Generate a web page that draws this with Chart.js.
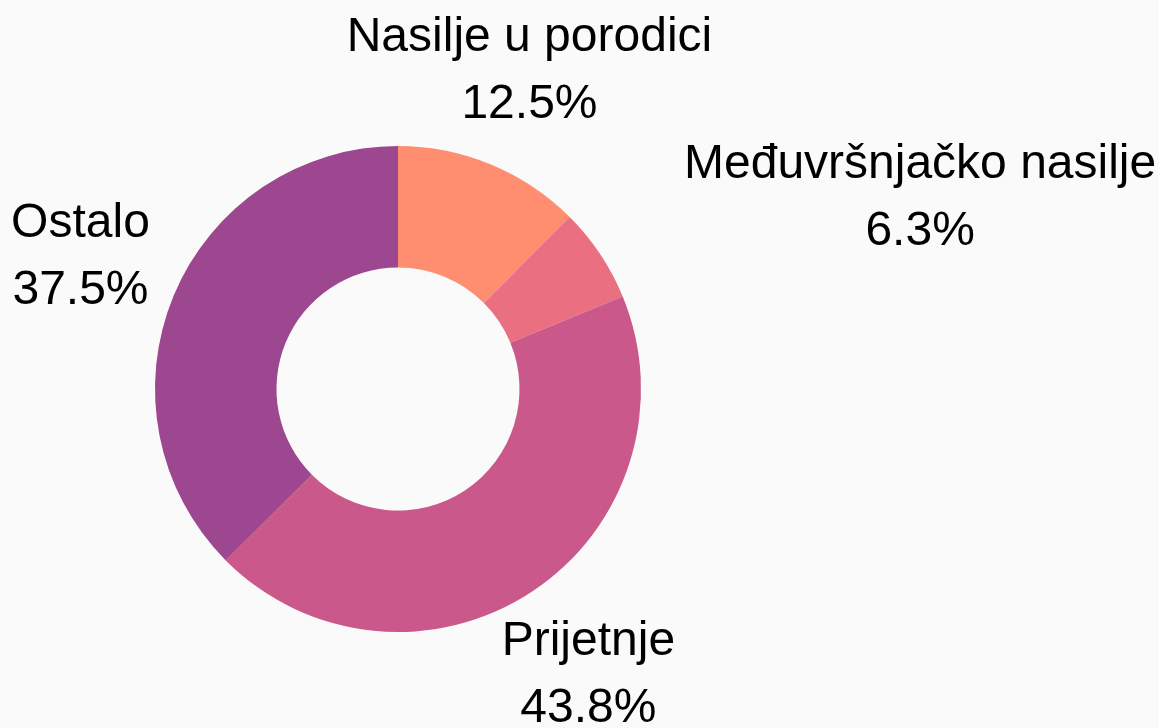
<!DOCTYPE html>
<html>
<head>
<meta charset="utf-8">
<script src="https://cdn.jsdelivr.net/npm/chart.js"></script>
<style>
  html, body { margin: 0; padding: 0; background: #fafafa; }
  #wrap { width: 1159px; height: 728px; }
</style>
</head>
<body>
<div id="wrap"><canvas id="chart_donut" width="1159" height="728"></canvas></div>
<script>
// data
const categories = ['Nasilje u porodici', 'Međuvršnjačko nasilje', 'Prijetnje', 'Ostalo'];
const shares = [12.5, 6.3, 43.8, 37.5];
const colors = ['#fe8e6f', '#ea6f80', '#ca588b', '#9c478f'];

// labels outside the ring, two lines each
const outsideLabels = {
  id: 'outsideLabels',
  afterDraw(chart, args, opts) {
    const ctx = chart.ctx;
    const meta = chart.getDatasetMeta(0);
    ctx.save();
    ctx.font = opts.size + 'px "Liberation Sans", Arial, sans-serif';
    ctx.fillStyle = '#000';
    ctx.textBaseline = 'middle';
    ctx.textAlign = 'center';
    meta.data.forEach((arc, i) => {
      const p = arc.getProps(['x', 'y', 'startAngle', 'endAngle', 'outerRadius'], true);
      const mid = (p.startAngle + p.endAngle) / 2;
      const r = p.outerRadius * opts.radiusFactor;
      let x = p.x + Math.cos(mid) * r;
      const y = p.y + Math.sin(mid) * r;
      const lines = [categories[i], shares[i].toFixed(1) + '%'];
      const w = Math.max(...lines.map(t => ctx.measureText(t).width));
      if (opts.align[i] === 'left') x += w / 2;
      if (opts.align[i] === 'right') x -= w / 2;
      lines.forEach((t, k) => {
        ctx.fillText(t, x, y + (k - 0.5) * opts.lineHeight);
      });
    });
    ctx.restore();
  }
};

const bg = {
  id: 'bg',
  beforeDraw(chart) {
    const ctx = chart.ctx;
    ctx.save();
    ctx.fillStyle = '#fafafa';
    ctx.fillRect(0, 0, chart.width, chart.height);
    ctx.restore();
  }
};

new Chart('chart_donut', {
  type: 'doughnut',
  data: {
    labels: categories,
    datasets: [{
      data: shares,
      backgroundColor: colors,
      borderWidth: 0
    }]
  },
  options: {
    responsive: false,
    animation: false,
    cutout: '50%',
    layout: { padding: { left: 155, right: 518, top: 146, bottom: 96 } },
    plugins: {
      legend: { display: false },
      tooltip: { enabled: false },
      outsideLabels: {
        size: 48,
        lineHeight: 67,
        radiusFactor: 1.415,
        align: ['center', 'left', 'center', 'center']
      }
    }
  },
  plugins: [bg, outsideLabels]
});
</script>
</body>
</html>
